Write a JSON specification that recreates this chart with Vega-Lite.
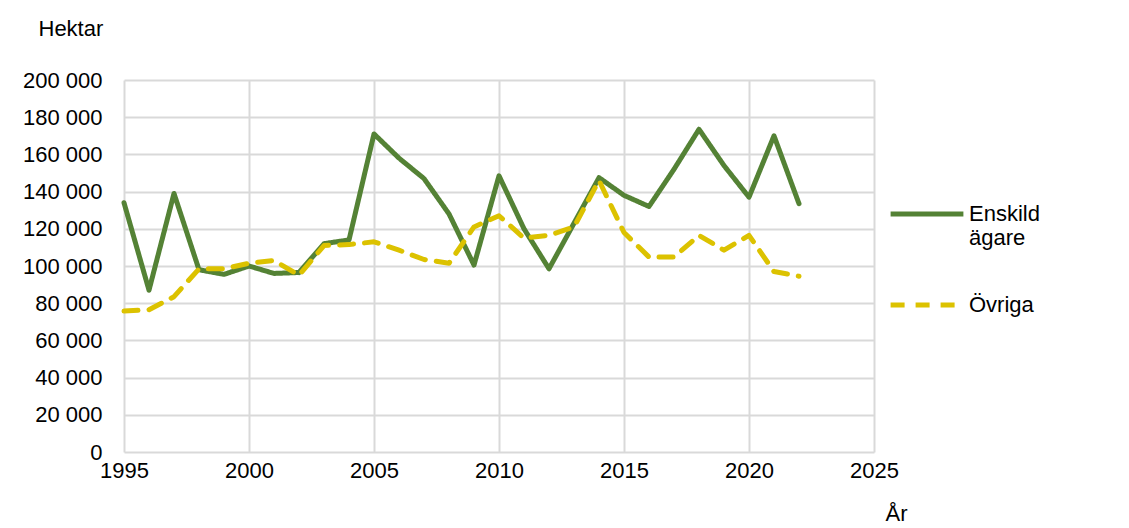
{
  "$schema": "https://vega.github.io/schema/vega-lite/v6.json",
  "width": 750,
  "height": 372,
  "autosize": {"type": "none"},
  "padding": {"left": 124, "top": 80, "right": 255, "bottom": 76},
  "background": "white",
  "config": {
    "font": "Liberation Sans",
    "view": {"stroke": null},
    "axis": {"labelFont": "Liberation Sans", "titleFont": "Liberation Sans"}
  },
  "data": {
    "values": [
      {"year": 1995, "serie": "Enskild ägare", "value": 134000},
      {"year": 1996, "serie": "Enskild ägare", "value": 87000},
      {"year": 1997, "serie": "Enskild ägare", "value": 139000},
      {"year": 1998, "serie": "Enskild ägare", "value": 98000},
      {"year": 1999, "serie": "Enskild ägare", "value": 95500},
      {"year": 2000, "serie": "Enskild ägare", "value": 100000},
      {"year": 2001, "serie": "Enskild ägare", "value": 96000},
      {"year": 2002, "serie": "Enskild ägare", "value": 96500},
      {"year": 2003, "serie": "Enskild ägare", "value": 112000},
      {"year": 2004, "serie": "Enskild ägare", "value": 114000},
      {"year": 2005, "serie": "Enskild ägare", "value": 171000},
      {"year": 2006, "serie": "Enskild ägare", "value": 158000},
      {"year": 2007, "serie": "Enskild ägare", "value": 147000},
      {"year": 2008, "serie": "Enskild ägare", "value": 128000},
      {"year": 2009, "serie": "Enskild ägare", "value": 100500},
      {"year": 2010, "serie": "Enskild ägare", "value": 148500},
      {"year": 2011, "serie": "Enskild ägare", "value": 120000},
      {"year": 2012, "serie": "Enskild ägare", "value": 98500},
      {"year": 2013, "serie": "Enskild ägare", "value": 123000},
      {"year": 2014, "serie": "Enskild ägare", "value": 147500},
      {"year": 2015, "serie": "Enskild ägare", "value": 138000},
      {"year": 2016, "serie": "Enskild ägare", "value": 132000},
      {"year": 2017, "serie": "Enskild ägare", "value": 152000},
      {"year": 2018, "serie": "Enskild ägare", "value": 173500},
      {"year": 2019, "serie": "Enskild ägare", "value": 154000},
      {"year": 2020, "serie": "Enskild ägare", "value": 137000},
      {"year": 2021, "serie": "Enskild ägare", "value": 170000},
      {"year": 2022, "serie": "Enskild ägare", "value": 133500},
      {"year": 1995, "serie": "Övriga", "value": 75800},
      {"year": 1996, "serie": "Övriga", "value": 76500},
      {"year": 1997, "serie": "Övriga", "value": 83500},
      {"year": 1998, "serie": "Övriga", "value": 98500},
      {"year": 1999, "serie": "Övriga", "value": 98500},
      {"year": 2000, "serie": "Övriga", "value": 101500},
      {"year": 2001, "serie": "Övriga", "value": 103000},
      {"year": 2002, "serie": "Övriga", "value": 95000},
      {"year": 2003, "serie": "Övriga", "value": 111000},
      {"year": 2004, "serie": "Övriga", "value": 111500},
      {"year": 2005, "serie": "Övriga", "value": 113000},
      {"year": 2006, "serie": "Övriga", "value": 108500},
      {"year": 2007, "serie": "Övriga", "value": 103500},
      {"year": 2008, "serie": "Övriga", "value": 101500},
      {"year": 2009, "serie": "Övriga", "value": 121000},
      {"year": 2010, "serie": "Övriga", "value": 127000},
      {"year": 2011, "serie": "Övriga", "value": 115000},
      {"year": 2012, "serie": "Övriga", "value": 116500},
      {"year": 2013, "serie": "Övriga", "value": 121000},
      {"year": 2014, "serie": "Övriga", "value": 146000},
      {"year": 2015, "serie": "Övriga", "value": 118000},
      {"year": 2016, "serie": "Övriga", "value": 104800},
      {"year": 2017, "serie": "Övriga", "value": 104800},
      {"year": 2018, "serie": "Övriga", "value": 116500},
      {"year": 2019, "serie": "Övriga", "value": 108500},
      {"year": 2020, "serie": "Övriga", "value": 116500},
      {"year": 2021, "serie": "Övriga", "value": 97000},
      {"year": 2022, "serie": "Övriga", "value": 94500}
    ]
  },
  "mark": {"type": "line", "strokeWidth": 5, "strokeCap": "round", "strokeJoin": "round"},
  "encoding": {
    "x": {
      "field": "year",
      "type": "quantitative",
      "scale": {"domain": [1995, 2025], "nice": false, "zero": false},
      "axis": {
        "values": [1995, 2000, 2005, 2010, 2015, 2020, 2025],
        "format": "d",
        "grid": true,
        "gridColor": "#d9d9d9",
        "gridWidth": 2,
        "domain": false,
        "ticks": false,
        "labelFontSize": 22,
        "labelColor": "#000000",
        "labelPadding": 8,
        "labelFlush": false,
        "title": "År",
        "titleFontSize": 22,
        "titleFontWeight": "normal",
        "titleColor": "#000000",
        "titleAlign": "left",
        "titleAnchor": "start",
        "titleX": 761,
        "titleY": 61,
        "titleBaseline": "middle"
      }
    },
    "y": {
      "field": "value",
      "type": "quantitative",
      "scale": {"domain": [0, 200000], "nice": false},
      "axis": {
        "values": [0, 20000, 40000, 60000, 80000, 100000, 120000, 140000, 160000, 180000, 200000],
        "labelExpr": "replace(format(datum.value, ','), ',', ' ')",
        "grid": true,
        "gridColor": "#d9d9d9",
        "gridWidth": 2,
        "domain": false,
        "ticks": false,
        "labelFontSize": 22,
        "labelColor": "#000000",
        "labelPadding": 22,
        "title": "Hektar",
        "titleFontSize": 22,
        "titleFontWeight": "normal",
        "titleColor": "#000000",
        "titleAngle": 0,
        "titleAlign": "left",
        "titleX": -86,
        "titleY": -52,
        "titleBaseline": "middle"
      }
    },
    "color": {
      "field": "serie",
      "type": "nominal",
      "scale": {"domain": ["Enskild ägare", "Övriga"], "range": ["#548235", "#dcc200"]},
      "legend": {
        "orient": "none",
        "legendX": 764,
        "legendY": 95,
        "title": null,
        "symbolType": "stroke",
        "symbolSize": 5300,
        "symbolStrokeWidth": 5,
        "labelFontSize": 22,
        "labelColor": "#000000",
        "labelOffset": 3,
        "labelLimit": 300,
        "rowPadding": 17,
        "labelExpr": "datum.label == 'Enskild ägare' ? ['Enskild', 'ägare'] : datum.label"
      }
    },
    "strokeDash": {
      "field": "serie",
      "type": "nominal",
      "scale": {"domain": ["Enskild ägare", "Övriga"], "range": [[1, 0], [14, 11]]},
      "legend": {
        "orient": "none",
        "legendX": 764,
        "legendY": 95,
        "title": null,
        "symbolType": "stroke",
        "symbolSize": 5300,
        "symbolStrokeWidth": 5,
        "labelFontSize": 22,
        "labelColor": "#000000",
        "labelOffset": 3,
        "labelLimit": 300,
        "rowPadding": 17,
        "labelExpr": "datum.label == 'Enskild ägare' ? ['Enskild', 'ägare'] : datum.label"
      }
    }
  }
}
